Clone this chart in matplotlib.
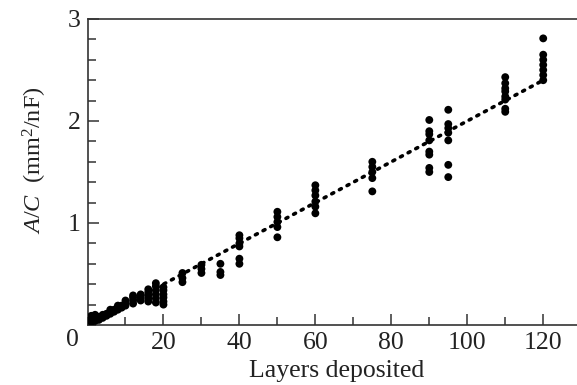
import matplotlib
matplotlib.use("Agg")
import matplotlib.pyplot as plt
from matplotlib.ticker import MultipleLocator, FixedLocator

# ---- data ----
layers = ([1]*3 + [2]*3 + [3]*2 + [4]*2 + [5]*2 + [6]*3 + [7]*2 + [8]*3 + [9]*2 +
          [10]*3 + [12]*4 + [14]*3 + [16]*5 + [18]*6 + [20]*6 + [25]*3 + [30]*3 +
          [35]*3 + [40]*6 + [50]*5 + [60]*6 + [75]*5 + [90]*8 + [95]*7 + [110]*8 + [120]*7)
a_over_c = [0.03, 0.06, 0.09,
            0.04, 0.07, 0.10,
            0.05, 0.08,
            0.07, 0.10,
            0.09, 0.11,
            0.11, 0.13, 0.15,
            0.13, 0.15,
            0.15, 0.17, 0.19,
            0.17, 0.19,
            0.19, 0.21, 0.24,
            0.21, 0.24, 0.27, 0.29,
            0.24, 0.27, 0.30,
            0.23, 0.26, 0.29, 0.32, 0.35,
            0.22, 0.26, 0.30, 0.34, 0.38, 0.41,
            0.20, 0.23, 0.27, 0.30, 0.34, 0.37,
            0.42, 0.46, 0.51,
            0.51, 0.55, 0.59,
            0.49, 0.52, 0.60,
            0.60, 0.65, 0.77, 0.80, 0.85, 0.88,
            0.86, 0.96, 1.01, 1.06, 1.11,
            1.095, 1.16, 1.21, 1.27, 1.32, 1.37,
            1.31, 1.44, 1.50, 1.55, 1.60,
            1.50, 1.54, 1.67, 1.70, 1.81, 1.87, 1.90, 2.01,
            1.45, 1.57, 1.81, 1.885, 1.93, 1.97, 2.11,
            2.09, 2.12, 2.21, 2.24, 2.29, 2.32, 2.37, 2.43,
            2.40, 2.45, 2.50, 2.55, 2.60, 2.65, 2.81]
fit_x = [2, 120]
fit_y = [0.04, 2.40]
x_ticks = [20, 40, 60, 80, 100, 120]
y_ticks = [1, 2, 3]

plt.rcParams['font.family'] = ['Liberation Serif', 'DejaVu Serif']
plt.rcParams['mathtext.fontset'] = 'custom'
plt.rcParams['mathtext.rm'] = 'Liberation Serif'
plt.rcParams['mathtext.it'] = 'Liberation Serif:italic'

FS = 18.5
TC = '#222222'

fig = plt.figure(figsize=(5.77, 3.85), dpi=100)
ax = fig.add_axes([87.5/577, 1-325/385, 1-87.5/577 + 0.002, (325-19)/385])

ax.plot(fit_x, fit_y, color='black', lw=2.6, linestyle=(0, (0.6, 1.8)),
        dash_capstyle='round', zorder=2)
ax.scatter(layers, a_over_c, s=32, color='black', edgecolors='none', zorder=3)

ax.set_xlim(0, 129.2)
ax.set_ylim(0, 3)
ax.xaxis.set_major_locator(FixedLocator(x_ticks))
ax.xaxis.set_minor_locator(MultipleLocator(10))
ax.yaxis.set_major_locator(FixedLocator(y_ticks))
ax.yaxis.set_minor_locator(MultipleLocator(0.2))

sc = '#333333'
for s in ['left', 'bottom', 'top']:
    ax.spines[s].set_linewidth(1.2)
    ax.spines[s].set_color(sc)
ax.spines['right'].set_visible(False)

ax.tick_params(which='both', direction='in', color=sc, width=1.1,
               labelsize=FS, labelcolor=TC, pad=5)
ax.tick_params(which='major', length=8)
ax.tick_params(which='minor', length=6)

fig.text(72/577, 1-340/385, '0', fontsize=FS, color=TC, ha='center', va='center')

ax.set_xlabel('Layers deposited', fontsize=FS, color=TC)
ax.xaxis.set_label_coords((336-87.5)/489.5, (325-371)/306)
ax.xaxis.label.set_va('center')
ax.set_ylabel(r'$A/C$  (mm$^2$/nF)', fontsize=17.5, color=TC)
ax.yaxis.set_label_coords((35-87.5)/489.5, (325-160)/306)
ax.yaxis.label.set_va('center')

fig.savefig('out.png', dpi=100)
